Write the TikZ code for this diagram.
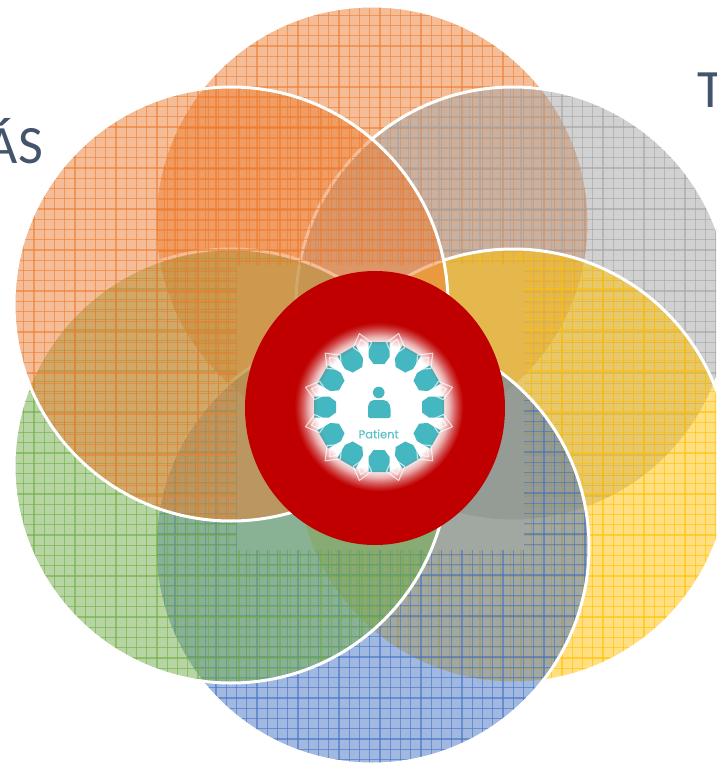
\documentclass[tikz,border=0pt]{standalone}
\usepackage{fontspec}
\usetikzlibrary{fadings}
\setmainfont{Carlito}
\newfontfamily\iconfont[FakeBold=0.5]{Poppins}
\definecolor{cOrange}{HTML}{ED7D31}
\definecolor{cGray}{HTML}{A5A5A5}
\definecolor{cYellow}{HTML}{FFC000}
\definecolor{cBlue}{HTML}{4472C4}
\definecolor{cGreen}{HTML}{70AD47}
\definecolor{cRed}{HTML}{C00000}
\definecolor{cTeal}{HTML}{45B7C0}
\definecolor{cSlate}{HTML}{44546A}
\pgfdeclareradialshading{ringshade}{\pgfpoint{0bp}{0bp}}{%
 color(0bp)=(black); color(18.2bp)=(black); color(20.6bp)=(black!70!white);
 color(22.4bp)=(black!35!white); color(24.1bp)=(black!8!white); color(25bp)=(white); color(50bp)=(white)}
\pgfdeclarefading{ringfade}{\pgfuseshading{ringshade}}
\tikzset{
  bigtext/.style={font=\fontsize{54}{54}\selectfont,text=cSlate,inner sep=0pt},
  petal/.style={fill=cTeal,draw=none},
  forkline/.style={draw=white,line width=1.1pt,opacity=.7,line join=round},
  iconpart/.style={fill=cTeal,draw=none},
}
\newcommand{\patchcircle}[3]{%
  \fill[#3,fill opacity=.5] (#1,#2) circle (217pt);
  \begin{scope}[even odd rule]
    \clip (#1,#2) circle (217pt);
    \clip (-20,-20) rectangle (760,790) (237,265) rectangle (524,550);
    \pgfmathsetmacro{\gx}{#1-217.5}
    \pgfmathsetmacro{\gy}{#2-218}
    \foreach \k in {0,...,42}{
      \pgfmathsetmacro{\px}{\gx+10.25*\k}
      \pgfmathsetmacro{\py}{\gy+10.25*\k}
      \draw[#3,opacity=.6,line width=1.1pt] (\px,#2-220) -- (\px,#2+220);
      \draw[#3,opacity=.6,line width=1.1pt] (#1-220,\py) -- (#1+220,\py);
    }
  \end{scope}
  \draw[white,line width=3pt] (#1,#2) circle (217pt);
}
\begin{document}
\begin{tikzpicture}[x=1pt,y=-1pt]
\useasboundingbox (0,0) rectangle (716,765);
\begin{scope}
\clip (0,0) rectangle (716,765);
\fill[white] (0,0) rectangle (716,765);
\node[bigtext,anchor=base east] (leftlabel) at (43,163) {ÁS};
\node[bigtext,anchor=base west] (rightlabel) at (697,107) {T};
\patchcircle{372}{223}{cOrange}
\patchcircle{513}{304}{cGray}
\patchcircle{513}{466}{cYellow}
\patchcircle{372}{547}{cBlue}
\patchcircle{231}{466}{cGreen}
\patchcircle{231}{304}{cOrange}
% red disc
\fill[cRed] (375,408) ellipse [x radius=130pt,y radius=137pt];
% icon
\fill[white] (379,407) circle (84pt);
\begin{scope}[shift={(379,407)}]
  \foreach \a in {0,30,...,330}{
    \begin{scope}[rotate=\a]
      \fill[petal] (-5.5,-43) -- (5.5,-43) -- (10.5,-50) -- (10.5,-65) -- (-10.5,-65) -- (-10.5,-50) -- cycle;
    \end{scope}
  }
\end{scope}
% soft edge
\fill[cRed,path fading=ringfade] (379,407) circle (85pt);
\begin{scope}[shift={(379,407)}]
  \foreach \a in {0,30,...,330}{
    \begin{scope}[rotate=\a+15]
      \draw[forkline] (0,-53) -- (-9.5,-64) -- (0,-76) -- (9.5,-64) -- cycle;
      \draw[forkline] (0,-55) -- (-4.5,-64) -- (0,-70) -- (4.5,-64) -- cycle;
    \end{scope}
  }
\end{scope}
\fill[iconpart] (378.7,392.5) circle (5.8pt);
\fill[iconpart] (368,418) [rounded corners=1.5pt] -- (368,408) [rounded corners=5pt] -- (369,400) -- (388.5,400) [rounded corners=1.5pt] -- (390.5,408) -- (390.5,418) -- cycle;
\node[inner sep=0pt,text=cTeal!85!white] (patient) at (378.7,434) {\iconfont\fontsize{11.5}{12}\selectfont Patient};
\end{scope}
\end{tikzpicture}
\end{document}
